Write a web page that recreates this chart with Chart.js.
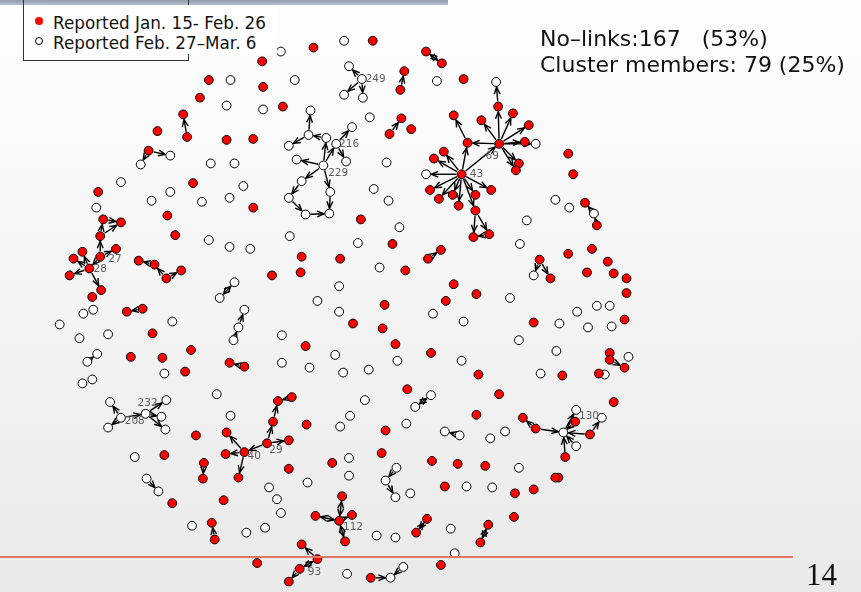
<!DOCTYPE html>
<html>
<head>
<meta charset="utf-8">
<script src="https://cdn.jsdelivr.net/npm/chart.js@4.4.1/dist/chart.umd.min.js"></script>
<style>
  html, body { margin: 0; padding: 0; }
  body {
    width: 861px; height: 592px; overflow: hidden; position: relative;
    background: linear-gradient(to bottom, #fefefe 0%, #f4f4f4 50%, #e9e9e9 100%);
    font-family: "DejaVu Sans", sans-serif;
  }
  #topbar { position: absolute; left: 0; top: 0; width: 448px; height: 5px;
    background: linear-gradient(to bottom, #8e9aab, #b9c1cd); }
  #graph { position: absolute; left: 0; top: 0; }
  #legendBox { position: absolute; left: 23px; top: -1px; width: 164px; height: 60px;
    border: 1px solid #333; }
  #legendText { position: absolute; left: 48px; top: 5px; width: 229px; height: 49px;
    background: #fff; }
  .lg { position: absolute; left: 53px; font-size: 16.8px; line-height: 20px; color: #111; white-space: pre; }
  .dot { position: absolute; width: 8px; height: 8px; border-radius: 50%; box-sizing: border-box; }
  #stats { position: absolute; left: 540px; top: 26px; font-size: 22px; line-height: 26px;
    color: #111; white-space: pre; }
  #redline { position: absolute; left: 0; top: 556px; width: 793px; height: 1.5px; background: #e27767; }
  #page { position: absolute; left: 806px; top: 559px; font-family: "Liberation Serif", serif;
    font-size: 31px; line-height: 32px; color: #111; }
</style>
</head>
<body>
<div id="topbar"></div>
<canvas id="graph" width="861" height="592"></canvas>
<div id="legendBox"></div>
<div id="legendText"></div>
<div class="dot" style="left:35px;top:17px;background:#ff0000;"></div>
<div class="dot" style="left:35px;top:37px;background:#fff;border:1px solid #000;"></div>
<div class="lg" style="top:13px;">Reported Jan. 15- Feb. 26</div>
<div class="lg" style="top:33px;">Reported Feb. 27–Mar. 6</div>
<div id="stats">No–links:167   (53%)
Cluster members: 79 (25%)</div>
<div id="redline"></div>
<div id="page">14</div>
<script>
// layout coordinates of the cases (x to the right, y downward)
const redNodes = [
  [260,57],[206,76],[261,83],[197,94],[281,103],[180,111],[184,134],[154,128],[224,137],[251,136],
  [145,148],[190,181],[94,190],[312,43],[372,36],[426,47],[442,59],[404,67],[400,86],[464,75],
  [401,115],[389,131],[411,126],
  [500,141],[499,103],[514,110],[530,122],[526,139],[482,117],[468,140],[520,161],[517,168],
  [462,172],[454,112],[444,149],[434,156],[430,188],[439,197],[453,193],[476,193],[492,188],
  [459,204],[476,209],[474,236],[490,233],
  [570,151],[575,172],[587,201],[599,224],[570,253],[594,248],[610,261],[589,272],[616,273],
  [629,278],[629,293],[627,320],[612,354],[612,361],[627,369],[564,377],[601,375],[541,259],
  [552,278],[535,323],
  [251,206],[164,214],[172,234],[99,218],[117,221],[96,235],[112,248],[96,256],[78,251],[69,258],
  [85,268],[65,275],[97,290],[88,297],[300,256],[299,272],[135,260],[151,264],[163,278],[178,270],
  [270,275],[123,312],[139,309],[149,334],[127,358],[159,359],[188,351],[182,373],[227,364],[242,368],
  [360,218],[392,243],[339,258],[405,270],[428,258],[441,249],[454,284],[477,294],[446,301],
  [384,305],[352,324],[382,329],[395,345],[304,347],[431,354],[479,376],[407,391],[500,396],
  [193,438],[161,458],[201,466],[200,482],[224,435],[223,457],[242,455],[236,481],[265,446],
  [287,443],[271,424],[276,403],[290,399],[287,472],[169,507],[221,504],[209,527],[212,544],
  [255,568],[300,549],[298,574],[287,587],[316,564],[305,427],[385,433],[477,417],[524,420],
  [537,431],[567,460],[592,437],[577,424],[616,404],[560,481],[381,456],[331,466],[432,464],
  [458,467],[486,469],[445,490],[516,497],[535,493],[557,481],[515,521],[341,500],[314,520],
  [338,525],[351,519],[344,546],[427,523],[416,537],[489,529],[481,547],[370,583],[441,570]
];
const whiteNodes = [
  [279,47],[228,76],[293,76],[224,102],[261,106],[167,153],[137,162],[208,161],[232,161],[287,143],
  [295,157],[117,180],[241,184],[148,199],[167,190],[199,200],[227,196],[287,196],[343,36],[348,62],
  [361,75],[343,91],[362,94],[437,77],[309,107],[369,114],[307,132],[325,135],[335,141],[351,124],
  [345,159],[322,163],[300,179],[329,190],[386,160],[373,187],[388,199],[497,78],[537,141],[426,172],
  [557,198],[571,206],[596,212],[528,219],[521,243],[535,275],[92,206],[206,239],[227,246],[248,248],
  [288,235],[232,282],[217,298],[242,310],[236,328],[231,341],[79,314],[89,310],[55,325],[169,322],
  [75,339],[104,335],[280,336],[93,355],[83,363],[161,375],[280,364],[88,381],[78,385],[214,396],
  [304,213],[328,212],[399,226],[357,242],[379,267],[338,286],[316,301],[338,312],[433,314],[464,322],
  [511,298],[334,356],[308,369],[342,374],[368,371],[397,362],[462,362],[431,397],[415,409],[364,402],
  [520,341],[561,324],[579,312],[590,328],[599,306],[612,306],[614,327],[558,352],[542,375],[631,358],
  [607,376],[106,404],[117,420],[104,430],[142,416],[163,402],[158,419],[162,432],[228,418],[131,460],
  [143,482],[155,495],[267,491],[275,503],[279,517],[189,530],[244,537],[263,532],[349,418],[339,429],
  [406,426],[445,434],[460,438],[491,441],[506,434],[565,435],[578,412],[578,449],[604,420],[348,461],
  [348,479],[306,486],[396,471],[385,484],[395,501],[410,497],[520,471],[467,490],[493,491],[451,533],
  [376,540],[395,542],[455,558],[346,579],[390,583],[403,572]
];
// reported contacts: from -> to
const links = [
  [184,134,180,111],[145,148,167,153],[145,148,137,162],[400,86,404,67],
  [361,75,348,62],[361,75,343,91],[361,75,362,94],[389,131,401,115],
  [322,163,325,135],[322,163,335,141],[322,163,295,157],[322,163,300,179],[322,163,329,190],
  [325,135,307,132],[307,132,309,107],[307,132,287,143],[335,141,351,124],[335,141,345,159],
  [300,179,287,196],[287,196,304,213],[304,213,328,212],[329,190,328,212],
  [500,141,499,103],[500,141,514,110],[500,141,530,122],[500,141,526,139],[500,141,537,141],
  [500,141,482,117],[500,141,468,140],[500,141,520,161],[500,141,517,168],[499,103,497,78],
  [462,172,500,141],[462,172,468,140],[468,140,454,112],[462,172,444,149],[462,172,434,156],
  [462,172,426,172],[462,172,430,188],[462,172,439,197],[462,172,453,193],[462,172,476,193],
  [462,172,492,188],[462,172,459,204],[462,172,476,209],
  [476,209,474,236],[476,209,490,233],[490,233,474,236],
  [428,258,441,249],[541,259,535,275],[541,259,552,278],[596,212,587,201],[599,224,596,212],
  [612,361,627,369],
  [96,256,96,235],[96,235,99,218],[99,218,117,221],[96,235,117,221],[96,256,112,248],
  [96,256,85,268],[85,268,78,251],[85,268,69,258],[85,268,65,275],[85,268,97,290],
  [151,264,135,260],[163,278,151,264],[163,278,178,270],
  [236,328,242,310],[231,341,236,328],[139,309,123,312],[83,363,93,355],[242,368,227,364],
  [117,420,106,404],[117,420,104,430],[117,420,142,416],[142,416,163,402],[142,416,158,419],
  [142,416,162,432],[143,482,155,495],[201,466,200,482],[212,544,209,527],
  [242,455,224,435],[242,455,223,457],[242,455,236,481],[265,446,242,455],[265,446,287,443],
  [265,446,271,424],[271,424,276,403],[290,399,276,403],
  [316,564,300,549],[298,574,287,587],[460,438,445,434],[396,471,385,484],[385,484,395,501],
  [338,525,351,519],[370,583,390,583],[403,572,390,583],
  [537,431,565,435],[537,431,524,420],[567,460,565,435],[592,437,565,435],[592,437,604,420],
  [577,424,565,435],[565,435,578,412],[578,449,565,435]
];
// contacts reported in both directions
const mutualLinks = [
  [426,47,442,59],[232,282,217,298],[316,564,298,574],[431,397,415,409],
  [338,525,341,500],[338,525,314,520],[338,525,344,546],[427,523,416,537],[489,529,481,547]
];
// case numbers written next to cluster centres
const caseLabels = [
  ['249',375,75],['216',348,141],['229',337,171],['69',493,154],['43',477,172],
  ['27',111,259],['28',96,269],['232',144,405],['208',131,424],['40',252,459],
  ['29',274,453],['112',352,532],['93',313,577],['130',591,418]
];

const toPts = arr => arr.map(p => ({ x: p[0], y: p[1] }));
const NODE_R = 4.4;

function drawArrowHead(ctx, x, y, ang) {
  const len = 7.5, spread = 0.4;
  ctx.beginPath();
  ctx.moveTo(x - len * Math.cos(ang - spread), y - len * Math.sin(ang - spread));
  ctx.lineTo(x, y);
  ctx.lineTo(x - len * Math.cos(ang + spread), y - len * Math.sin(ang + spread));
  ctx.stroke();
}

const linkPlugin = {
  id: 'links',
  beforeDatasetsDraw(chart) {
    const { ctx, scales: { x, y } } = chart;
    ctx.save();
    ctx.strokeStyle = '#000';
    ctx.lineWidth = 1.4;
    const draw = (l, both) => {
      const x1 = x.getPixelForValue(l[0]), y1 = y.getPixelForValue(l[1]);
      const x2 = x.getPixelForValue(l[2]), y2 = y.getPixelForValue(l[3]);
      const ang = Math.atan2(y2 - y1, x2 - x1);
      const d = NODE_R + 0.8;
      const sx = x1 + d * Math.cos(ang), sy = y1 + d * Math.sin(ang);
      const ex = x2 - d * Math.cos(ang), ey = y2 - d * Math.sin(ang);
      ctx.beginPath();
      ctx.moveTo(sx, sy);
      ctx.lineTo(ex, ey);
      ctx.stroke();
      drawArrowHead(ctx, ex, ey, ang);
      if (both) drawArrowHead(ctx, sx, sy, ang + Math.PI);
    };
    links.forEach(l => draw(l, false));
    mutualLinks.forEach(l => draw(l, true));
    ctx.restore();
  },
  afterDatasetsDraw(chart) {
    const { ctx, scales: { x, y } } = chart;
    ctx.save();
    ctx.fillStyle = '#5e5e5e';
    ctx.font = '10.5px "DejaVu Sans", sans-serif';
    ctx.textAlign = 'center';
    ctx.textBaseline = 'middle';
    caseLabels.forEach(([t, lx, ly]) => {
      ctx.fillText(t, x.getPixelForValue(lx), y.getPixelForValue(ly));
    });
    ctx.restore();
  }
};

new Chart(document.getElementById('graph'), {
  type: 'scatter',
  data: {
    datasets: [
      {
        label: 'Reported Jan. 15- Feb. 26',
        data: toPts(redNodes),
        backgroundColor: '#ff0000',
        borderColor: '#000',
        borderWidth: 1,
        pointRadius: NODE_R
      },
      {
        label: 'Reported Feb. 27–Mar. 6',
        data: toPts(whiteNodes),
        backgroundColor: '#ffffff',
        borderColor: '#000',
        borderWidth: 1,
        pointRadius: NODE_R
      }
    ]
  },
  options: {
    responsive: false,
    animation: false,
    layout: { padding: 0 },
    plugins: { legend: { display: false }, tooltip: { enabled: false } },
    scales: {
      x: { type: 'linear', min: 0, max: 861, display: false },
      y: { type: 'linear', min: 0, max: 592, reverse: true, display: false }
    }
  },
  plugins: [linkPlugin]
});
</script>
</body>
</html>
